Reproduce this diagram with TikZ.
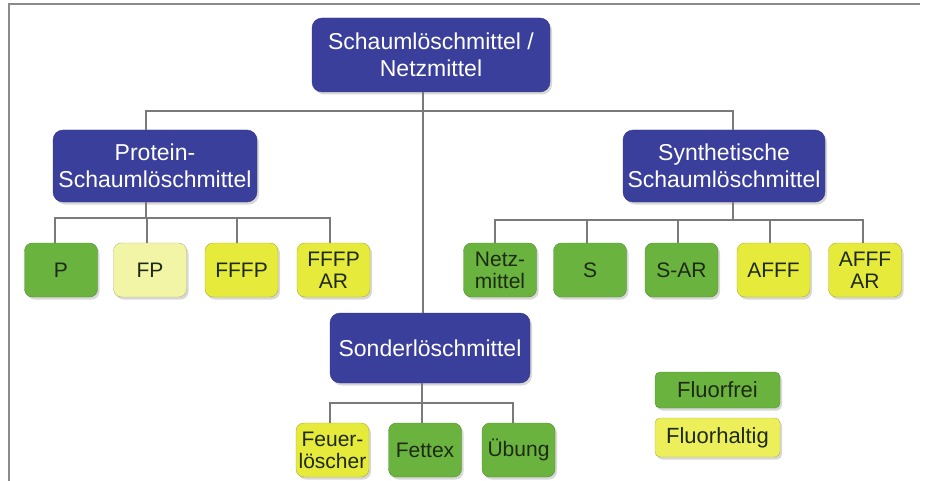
\documentclass[tikz,border=0pt]{standalone}
\usepackage{fontspec}
\setmainfont{Liberation Sans}
\usetikzlibrary{shadows}
\definecolor{nodeblue}{HTML}{3B3F9C}
\definecolor{fgreen}{HTML}{6AB33E}
\definecolor{pale}{HTML}{F3F5A6}
\definecolor{fyellow}{HTML}{E6EA3A}
\definecolor{lyellow}{HTML}{ECEF5A}
\definecolor{linegray}{HTML}{7A7A7A}
\definecolor{framegray}{HTML}{8A8A8A}
\definecolor{leaftext}{HTML}{1E2A14}
\tikzset{
  conn/.style={draw=linegray, line width=1.2pt},
  shad/.style={drop shadow={opacity=0.3, shadow xshift=2pt, shadow yshift=-2.5pt}},
  cat/.style={rectangle, rounded corners=10pt, fill=nodeblue, draw=nodeblue!85!black,
    text=white, font=\fontsize{23}{27}\selectfont, align=center, inner sep=0pt, shad},
  leaf/.style={rectangle, rounded corners=8pt, minimum width=73pt, minimum height=54pt,
    inner sep=0pt, align=center, font=\fontsize{21}{22}\selectfont, text=leaftext, shad},
  gr/.style={leaf, fill=fgreen, draw=fgreen!80!black},
  pl/.style={leaf, fill=pale, draw=pale!75!black},
  ye/.style={leaf, fill=fyellow, draw=fyellow!75!black},
  legbox/.style={rectangle, rounded corners=5pt, minimum width=125pt, inner sep=0pt,
    font=\fontsize{22}{24}\selectfont, text=leaftext, shad}
}
\begin{document}
\begin{tikzpicture}[x=1pt,y=-1pt]
\useasboundingbox (0,0) rectangle (925,481);
\fill[white] (0,0) rectangle (925,481);
% frame
\draw[framegray, line width=1.5pt] (9,481) -- (9,4) -- (920,4);

% category nodes
\node[cat, minimum width=238pt, minimum height=74pt] (top) at (431,55) {Schaumlöschmittel /\\Netzmittel};
\node[cat, minimum width=204pt, minimum height=72pt] (prot) at (155,166) {Protein-\\Schaumlöschmittel};
\node[cat, minimum width=202pt, minimum height=72pt] (syn) at (724,166) {Synthetische\\Schaumlöschmittel};
\node[cat, minimum width=200pt, minimum height=70pt] (sonder) at (430,348) {Sonderlöschmittel};

% protein leaves
\node[gr] (p) at (61,270) {P};
\node[pl] (fp) at (150,270) {FP};
\node[ye] (fffp) at (241.5,270) {FFFP};
\node[ye] (fffpar) at (333.5,270) {FFFP\\AR};

% synthetic leaves
\node[gr] (netz) at (500,270) {Netz-\\mittel};
\node[gr] (s) at (590,270) {S};
\node[gr] (sar) at (681.5,270) {S-AR};
\node[ye] (afff) at (773.5,270) {AFFF};
\node[ye] (afffar) at (865,270) {AFFF\\AR};

% sonder leaves
\node[ye] (feuer) at (332.5,450) {Feuer-\\löscher};
\node[gr] (fettex) at (425,450) {Fettex};
\node[gr] (uebung) at (518.5,450) {Übung};

% legend
\node[legbox, fill=fgreen, draw=fgreen!80!black, minimum height=36pt] (lfrei) at (717.5,390) {Fluorfrei};
\node[legbox, fill=lyellow, draw=lyellow!75!black, minimum height=39pt] (lhalt) at (717.5,437.5) {Fluorhaltig};

% branch points
\coordinate (tj) at (423,111);
\coordinate (pj) at (146,218);
\coordinate (sj) at (733,220);
\coordinate (dj) at (422,403);

% connectors
\draw[conn] ([xshift=-8pt]top.south) -- ([xshift=-8pt]top.south |- sonder.north);
\draw[conn] (prot.north -| pj) |- (tj) -| (syn.north -| sj);

\draw[conn] (prot.south -| pj) -- (pj);
\draw[conn] ([xshift=-6pt]p.north) |- (pj);
\draw[conn] ([xshift=-3pt]fp.north) -- ([xshift=-3pt]fp.north |- pj);
\draw[conn] ([xshift=-4.5pt]fffp.north) -- ([xshift=-4.5pt]fffp.north |- pj);
\draw[conn] ([xshift=-3.5pt]fffpar.north) |- (pj);

\draw[conn] (syn.south -| sj) -- (sj);
\draw[conn] ([xshift=-5pt]netz.north) |- (sj);
\draw[conn] ([xshift=-3pt]s.north) -- ([xshift=-3pt]s.north |- sj);
\draw[conn] ([xshift=-3.5pt]sar.north) -- ([xshift=-3.5pt]sar.north |- sj);
\draw[conn] ([xshift=-3.5pt]afff.north) -- ([xshift=-3.5pt]afff.north |- sj);
\draw[conn] ([xshift=-2pt]afffar.north) |- (sj);

\draw[conn] (sonder.south -| dj) -- (dj);
\draw[conn] ([xshift=-2.5pt]feuer.north) |- (dj);
\draw[conn] ([xshift=-3pt]fettex.north) -- ([xshift=-3pt]fettex.north |- dj);
\draw[conn] ([xshift=-5.5pt]uebung.north) |- (dj);
\end{tikzpicture}
\end{document}
